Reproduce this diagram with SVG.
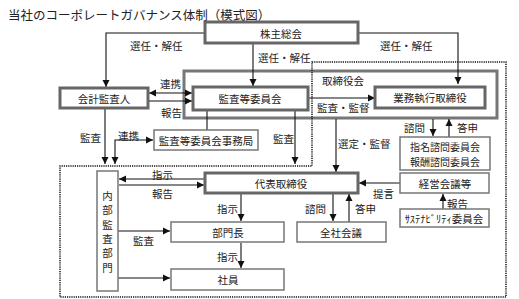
<svg xmlns="http://www.w3.org/2000/svg" width="519" height="299" viewBox="0 0 519 299">
<style>
text{font-family:"Noto Sans CJK JP","Noto Sans",sans-serif;font-size:10.5px;fill:#222;dominant-baseline:central;text-anchor:middle}
.title{font-size:12.5px;text-anchor:start}
.lbl{text-anchor:start}
.sm{font-size:10px}
.thick{fill:#fff;stroke:#666;stroke-width:3}
.thin{fill:#fff;stroke:#777;stroke-width:1.5}
.frame{fill:none;stroke:#777;stroke-width:3}
.dot{fill:none;stroke:#111;stroke-width:1.5;stroke-dasharray:1.2,1}
.c{fill:none;stroke:#111;stroke-width:1.1}
.a{marker-end:url(#ah)}
.b{marker-start:url(#ah);marker-end:url(#ah)}
</style>
<defs>
<marker id="ah" markerUnits="userSpaceOnUse" markerWidth="8" markerHeight="8" refX="7" refY="4" orient="auto-start-reverse">
<path d="M0,0.5 L7,4 L0,7.5 Z" fill="#111"/>
</marker>
</defs>
<rect width="519" height="299" fill="#fff"/>
<text class="title" x="8" y="14">当社のコーポレートガバナンス体制（模式図）</text>

<g id="frame-torishimariyakukai">
<rect class="frame" x="184" y="71" width="313" height="47"/>
<text class="lbl" x="322" y="80">取締役会</text>
</g>
<path class="dot" d="M312,62 H506 V297 H60 V166 H312 Z"/>

<g id="connectors">
<path class="c a" d="M205,33 H106 V87"/>
<path class="c a" d="M358,33 H458 V84"/>
<path class="c a" d="M253,43 V86"/>
<path class="c b" d="M149,93 H192"/>
<path class="c a" d="M149,101 H192"/>
<path class="c" d="M207,110 V130"/>
<path class="c a" d="M105,108 V164"/>
<path class="c b" d="M153,140 H115 V164"/>
<path class="c a" d="M295,110 V164"/>
<path class="c a" d="M308,98 H375"/>
<path class="c a" d="M336,119 V172"/>
<path class="c a" d="M433,119 V136"/>
<path class="c a" d="M449,137 V119"/>
<path class="c a" d="M205,179 H119"/>
<path class="c a" d="M119,185 H204"/>
<path class="c a" d="M241,194 V221"/>
<path class="c a" d="M241,243 V268"/>
<path class="c a" d="M118,231 H170"/>
<path class="c a" d="M118,278 H170"/>
<path class="c a" d="M333,194 V221"/>
<path class="c a" d="M349,222 V194"/>
<path class="c a" d="M400,183 H359"/>
<path class="c a" d="M443,209 V194"/>
<text class="lbl" x="130" y="45">選任・解任</text>
<text class="lbl" x="380" y="45">選任・解任</text>
<text class="lbl" x="258" y="57">選任・解任</text>
<text class="lbl" x="160" y="83">連携</text>
<text class="lbl" x="161" y="112">報告</text>
<text class="lbl" x="80" y="137">監査</text>
<text class="lbl" x="118" y="135">連携</text>
<text class="lbl" x="273" y="138">監査</text>
<text class="lbl" x="317" y="107">監査・監督</text>
<text class="lbl" x="338" y="143">選定・監督</text>
<text class="lbl" x="404" y="127">諮問</text>
<text class="lbl" x="457" y="127">答申</text>
<text class="lbl" x="152" y="174">指示</text>
<text class="lbl" x="152" y="193">報告</text>
<text class="lbl" x="217" y="208">指示</text>
<text class="lbl" x="217" y="256">指示</text>
<text class="lbl" x="133" y="240">監査</text>
<text class="lbl" x="305" y="208">諮問</text>
<text class="lbl" x="355" y="208">答申</text>
<text class="lbl" x="373" y="193">提言</text>
<text class="lbl" x="447" y="203">報告</text>
</g>

<g id="kabunushi-sokai"><rect class="thick" x="205" y="22" width="153" height="21"/><text x="281" y="33">株主総会</text></g>
<g id="kaikei-kansanin"><rect class="thick" x="60" y="88" width="88" height="20"/><text x="104" y="98">会計監査人</text></g>
<g id="kansato-iinkai"><rect class="thick" x="193" y="87" width="115" height="23"/><text x="250" y="98.5">監査等委員会</text></g>
<g id="gyomu-shikko"><rect class="thick" x="375" y="87" width="110" height="21"/><text x="430" y="97.5">業務執行取締役</text></g>
<g id="jimukyoku"><rect class="thin" x="154" y="130" width="104" height="20"/><text x="206" y="140">監査等委員会事務局</text></g>
<g id="shimon-iinkai"><rect class="thin" x="400" y="137" width="90" height="33"/><text class="sm" x="445" y="146">指名諮問委員会</text><text class="sm" x="445" y="161">報酬諮問委員会</text></g>
<g id="daihyo"><rect class="thick" x="205" y="173" width="153" height="20"/><text x="281" y="183">代表取締役</text></g>
<g id="keiei-kaigi"><rect class="thin" x="400" y="173" width="89" height="20"/><text x="445" y="183">経営会議等</text></g>
<g id="sustainability"><rect class="thin" x="400" y="209" width="89" height="18"/><text x="444" y="218">ｻｽﾃﾅﾋﾞﾘﾃｨ委員会</text></g>
<g id="naibu-kansa"><rect class="thin" x="97" y="171" width="21" height="120"/>
<text x="107.5" y="195">内</text><text x="107.5" y="209.5">部</text><text x="107.5" y="224">監</text><text x="107.5" y="238">査</text><text x="107.5" y="252.5">部</text><text x="107.5" y="267">門</text></g>
<g id="buchou"><rect class="thin" x="171" y="222" width="113" height="20"/><text x="228" y="232">部門長</text></g>
<g id="zensha-kaigi"><rect class="thin" x="297" y="222" width="89" height="20"/><text x="341" y="232">全社会議</text></g>
<g id="shain"><rect class="thin" x="171" y="269" width="113" height="21"/><text x="228" y="279.5">社員</text></g>
</svg>
